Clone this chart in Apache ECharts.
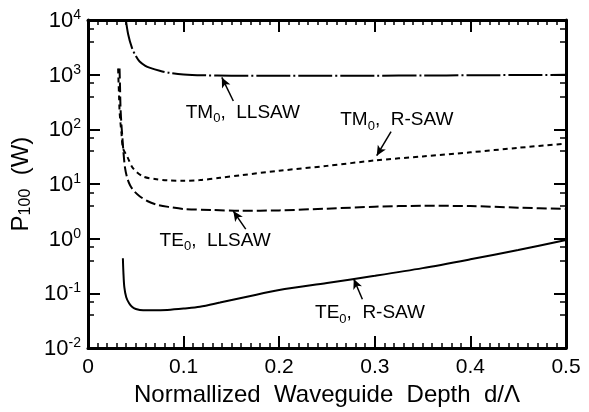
<!DOCTYPE html>
<html>
<head>
<meta charset="utf-8">
<script src="https://cdn.jsdelivr.net/npm/echarts@6/dist/echarts.min.js"></script>
<style>
  html, body { margin: 0; padding: 0; background: #fff; }
  #chart { width: 589px; height: 412px; }
</style>
</head>
<body>
<div id="chart"></div>
<script>
// depth d/Λ and P100 (W)
const xTmLl = [0.039, 0.042, 0.046, 0.050, 0.054, 0.060, 0.065, 0.075, 0.085, 0.10, 0.12, 0.15, 0.20, 0.25, 0.30, 0.35, 0.40, 0.45, 0.50];
const yTmLl = [12000, 5500, 3100, 2200, 1740, 1450, 1330, 1180, 1080, 1010, 975, 960, 955, 955, 960, 965, 975, 985, 995];

const xTmR = [0.0315, 0.032, 0.0325, 0.033, 0.034, 0.035, 0.0366, 0.041, 0.047, 0.0575, 0.07, 0.083, 0.10, 0.117, 0.138, 0.16, 0.20, 0.25, 0.30, 0.35, 0.40, 0.45, 0.50];
const yTmR = [1300, 700, 400, 220, 130, 85, 45, 32, 19.5, 13.8, 12.4, 11.7, 11.5, 11.8, 13, 14.5, 17.5, 21.5, 27, 32, 38, 46, 55];

const xTeLl = [0.033, 0.0335, 0.034, 0.035, 0.036, 0.037, 0.0387, 0.041, 0.044, 0.048, 0.054, 0.062, 0.072, 0.085, 0.10, 0.13, 0.16, 0.20, 0.25, 0.30, 0.35, 0.40, 0.45, 0.50];
const yTeLl = [1300, 600, 250, 120, 70, 40, 20, 13, 9.5, 7.5, 6, 4.9, 4.2, 3.8, 3.5, 3.35, 3.25, 3.3, 3.55, 3.85, 4.0, 3.95, 3.7, 3.5];

const xTeR = [0.0365, 0.037, 0.038, 0.040, 0.043, 0.046, 0.050, 0.0577, 0.07, 0.083, 0.10, 0.117, 0.138, 0.17, 0.20, 0.25, 0.30, 0.35, 0.40, 0.45, 0.50];
const yTeR = [0.44, 0.25, 0.13, 0.085, 0.066, 0.057, 0.052, 0.049, 0.049, 0.050, 0.053, 0.057, 0.068, 0.09, 0.115, 0.155, 0.21, 0.29, 0.42, 0.62, 0.95];

const yTicks = [0.01, 0.1, 1, 10, 100, 1000, 10000];

// mode, wave type, label x, label y, arrow tail x, y, arrow tip x, y
const notes = [
  ['TM', 'LLSAW', 0.162, 190, 0.152, 330, 0.140, 890],
  ['TM', 'R-SAW', 0.323, 138, 0.317, 91, 0.302, 33],
  ['TE', 'LLSAW', 0.133, 0.86, 0.165, 1.5, 0.152, 3.2],
  ['TE', 'R-SAW', 0.295, 0.041, 0.287, 0.078, 0.278, 0.184]
];

const zip = (xs, ys) => xs.map((x, i) => [x, ys[i]]);
const font = 'Liberation Sans, Arial, sans-serif';

const chart = echarts.init(document.getElementById('chart'));

function xAxisCfg(pos) {
  return {
    type: 'value',
    position: pos,
    min: 0,
    max: 0.5,
    interval: 0.1,
    axisLine: { show: true, onZero: false, lineStyle: { color: '#000', width: 3 } },
    axisTick: { show: true, inside: true, length: 12, lineStyle: { color: '#000', width: 2 } },
    minorTick: { show: true, splitNumber: 10, length: 5, lineStyle: { color: '#000', width: 1.5 } },
    splitLine: { show: false },
    axisLabel: {
      show: pos === 'bottom',
      color: '#000',
      fontSize: 21,
      fontFamily: font,
      margin: 9,
      formatter: v => (v === 0 ? '0' : v.toFixed(1))
    },
    name: pos === 'bottom' ? 'Normallized  Waveguide  Depth  d/\u039B' : '',
    nameLocation: 'middle',
    nameGap: 31,
    nameTextStyle: { color: '#000', fontSize: 24, fontFamily: font }
  };
}

function yAxisCfg(pos) {
  return {
    type: 'log',
    logBase: 10,
    position: pos,
    min: yTicks[0],
    max: yTicks[yTicks.length - 1],
    splitNumber: yTicks.length - 1,
    axisLine: { show: true, onZero: false, lineStyle: { color: '#000', width: 3 } },
    axisTick: { show: true, inside: true, length: 12, lineStyle: { color: '#000', width: 2 } },
    minorTick: { show: true, splitNumber: 3, length: 6, lineStyle: { color: '#000', width: 1.5 } },
    splitLine: { show: false },
    axisLabel: {
      show: pos === 'left',
      margin: 7,
      formatter: v => '{b|10}{s|' + Math.round(Math.log10(v)) + '}',
      rich: {
        b: { fontSize: 22, fontFamily: font, color: '#000', lineHeight: 24, verticalAlign: 'bottom' },
        s: { fontSize: 14, fontFamily: font, color: '#000', lineHeight: 14, verticalAlign: 'top' }
      }
    },
    name: pos === 'left' ? 'P{s|100}  (W)' : '',
    nameLocation: 'middle',
    nameGap: 54,
    nameRotate: 90,
    nameTextStyle: {
      color: '#000', fontSize: 24, fontFamily: font,
      rich: {
        s: { fontSize: 16, fontFamily: font, color: '#000', lineHeight: 16, verticalAlign: 'bottom' }
      }
    }
  };
}

function lineSeries(name, data, type, width) {
  return {
    name: name,
    type: 'line',
    data: data,
    xAxisIndex: 0,
    yAxisIndex: 0,
    showSymbol: false,
    smooth: 0.3,
    clip: true,
    lineStyle: { color: '#000', width: width, type: type }
  };
}

const option = {
  backgroundColor: '#fff',
  animation: false,
  grid: { left: 88, right: 23, top: 20, bottom: 60 },
  xAxis: [xAxisCfg('bottom'), xAxisCfg('top')],
  yAxis: [yAxisCfg('left'), yAxisCfg('right')],
  series: [
    lineSeries('TM0 LLSAW', zip(xTmLl, yTmLl), [34, 3, 2, 3], 2),
    lineSeries('TM0 R-SAW', zip(xTmR, yTmR), [5, 4], 2),
    lineSeries('TE0 LLSAW', zip(xTeLl, yTeLl), [10, 4], 2),
    lineSeries('TE0 R-SAW', zip(xTeR, yTeR), 'solid', 2),
    {
      type: 'line',
      data: [],
      silent: true,
      markLine: {
        silent: true,
        animation: false,
        symbol: ['none', 'arrow'],
        symbolSize: [7, 10],
        label: { show: false },
        lineStyle: { color: '#000', width: 1.5, type: 'solid' },
        data: notes.map(n => [{ coord: [n[4], n[5]] }, { coord: [n[6], n[7]] }])
      },
      markPoint: {
        silent: true,
        symbolSize: 0,
        label: {
          show: true,
          position: 'inside',
          formatter: p => '{b|' + p.data.m + '}{s|0}{b|,  ' + p.data.t + '}',
          rich: {
            b: { fontSize: 19, fontFamily: font, color: '#000', lineHeight: 22, verticalAlign: 'top' },
            s: { fontSize: 13, fontFamily: font, color: '#000', lineHeight: 13, verticalAlign: 'bottom' }
          }
        },
        data: notes.map(n => ({ coord: [n[2], n[3]], m: n[0], t: n[1] }))
      }
    }
  ]
};

chart.setOption(option);
</script>
</body>
</html>
